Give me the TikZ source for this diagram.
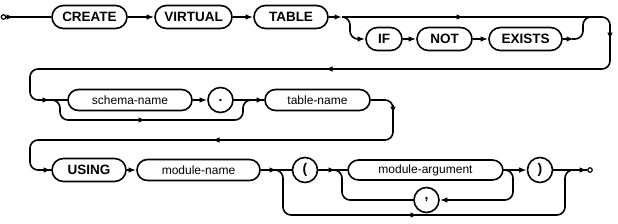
\documentclass[tikz,border=0pt]{standalone}
\usepackage{fontspec}
\setmainfont{Liberation Sans}
\usetikzlibrary{arrows.meta}
\begin{document}
\begin{tikzpicture}[x=1pt,y=-1pt, line width=1.6pt,
 kw/.style={draw, rounded corners=11.5pt, minimum height=23pt, inner sep=0pt, font=\fontsize{13.5}{15}\selectfont\bfseries},
 nt/.style={draw, rounded corners=10.5pt, minimum height=21pt, inner sep=0pt, font=\fontsize{12}{14}\selectfont},
 ch/.style={draw, circle, minimum size=25pt, inner sep=0pt, font=\fontsize{14}{16}\selectfont\bfseries},
 term/.style={draw, circle, minimum size=4.5pt, inner sep=0pt, line width=1.2pt},
 arr/.style={-{Latex[length=7.5pt,width=5.5pt]}},
 rc/.style={rounded corners=8pt}]
\useasboundingbox (0,0) rectangle (618,223);
% nodes
\node[term] (s) at (3.5,17) {};
\node[kw,minimum width=75pt] (create) at (89.5,17) {CREATE};
\node[kw,minimum width=77pt] (virtual) at (193.5,17) {VIRTUAL};
\node[kw,minimum width=74pt] (table) at (291,17) {TABLE};
\node[kw,minimum width=36pt] (if) at (384,39) {IF};
\node[kw,minimum width=55pt] (not) at (444.5,39) {NOT};
\node[kw,minimum width=73pt] (exists) at (525.5,39) {EXISTS};
\node[nt,minimum width=124pt] (schema) at (130,100) {schema-name};
\node[ch] (dot) at (220.5,100) {.};
\node[nt,minimum width=105pt] (tname) at (317.5,100) {table-name};
\node[kw,minimum width=74pt] (using) at (89,170) {USING};
\node[nt,minimum width=123pt] (mname) at (198.5,170) {module-name};
\node[ch] (lp) at (305,170) {(};
\node[nt,minimum width=155pt, minimum height=20pt] (marg) at (425.5,170) {module-argument};
\node[ch] (comma) at (426.5,200) {,};
\node[ch] (rp) at (540,170) {)};
\node[term] (e) at (590,170) {};
% junction coordinates
\coordinate (j1) at (342,17);
\coordinate (j2) at (50,100);
\coordinate (j3) at (252,100);
\coordinate (j4) at (277,170);
\coordinate (j5) at (336,170);
\coordinate (j6) at (575,170);
% row 1
\draw (s.east) -- (create.west);
\draw[arr] (s.east) -- (14,17);
\draw[arr] (create.east) -- (virtual.west);
\draw[arr] (virtual.east) -- (table.west);
\draw[arr] (table.east) -- (j1);
\draw[rc] (j1) -- (610,17) -- (610,69) -- (30,69) -- (30,100) -- (schema.west);
\draw[arr] (455,17) -- (464,17);
\draw[arr] (610,30) -- (610,40);
\draw[arr] (335,69) -- (325,69);
\draw[arr] (40,100) -- (j2);
\draw[arr,rc] (j1) -- (350,17) -- (350,39) -- (if.west);
\draw[arr] (if.east) -- (not.west);
\draw[arr] (not.east) -- (exists.west);
\draw[arr] (exists.east) -- (574,39);
\draw[rc] (572,39) -- (583,39) -- (583,17) -- (594,17);
% row 2
\draw[arr] (schema.east) -- (dot.west);
\draw (dot.east) -- (tname.west);
\draw[arr] (j3) -- (tname.west);
\draw[rc] (j2) -- (60,100) -- (60,120) -- (243,120) -- (243,100) -- (j3);
\draw[arr] (138,120) -- (146,120);
\draw[rc] (tname.east) -- (393,100) -- (393,140) -- (30,140) -- (30,170) -- (using.west);
\draw[arr] (393,105) -- (393,114);
\draw[arr] (222,140) -- (212,140);
\draw[arr] (40,170) -- (using.west);
% row 3
\draw[arr] (using.east) -- (mname.west);
\draw (mname.east) -- (lp.west);
\draw[arr] (mname.east) -- (j4);
\draw[rc] (j4) -- (283,170) -- (283,215) -- (565,215) -- (565,170) -- (j6);
\draw[arr] (410,215) -- (418,215);
\draw (lp.east) -- (marg.west);
\draw[arr] (lp.east) -- (j5);
\draw[rc] (j5) -- (342,170) -- (342,200) -- (comma.west);
\draw[arr] (marg.east) -- (rp.west);
\draw[arr,rc] (marg.east) -- (513,170) -- (513,200) -- (comma.east);
\draw (rp.east) -- (e.west);
\draw[arr] (j6) -- (e.west);
\end{tikzpicture}
\end{document}
